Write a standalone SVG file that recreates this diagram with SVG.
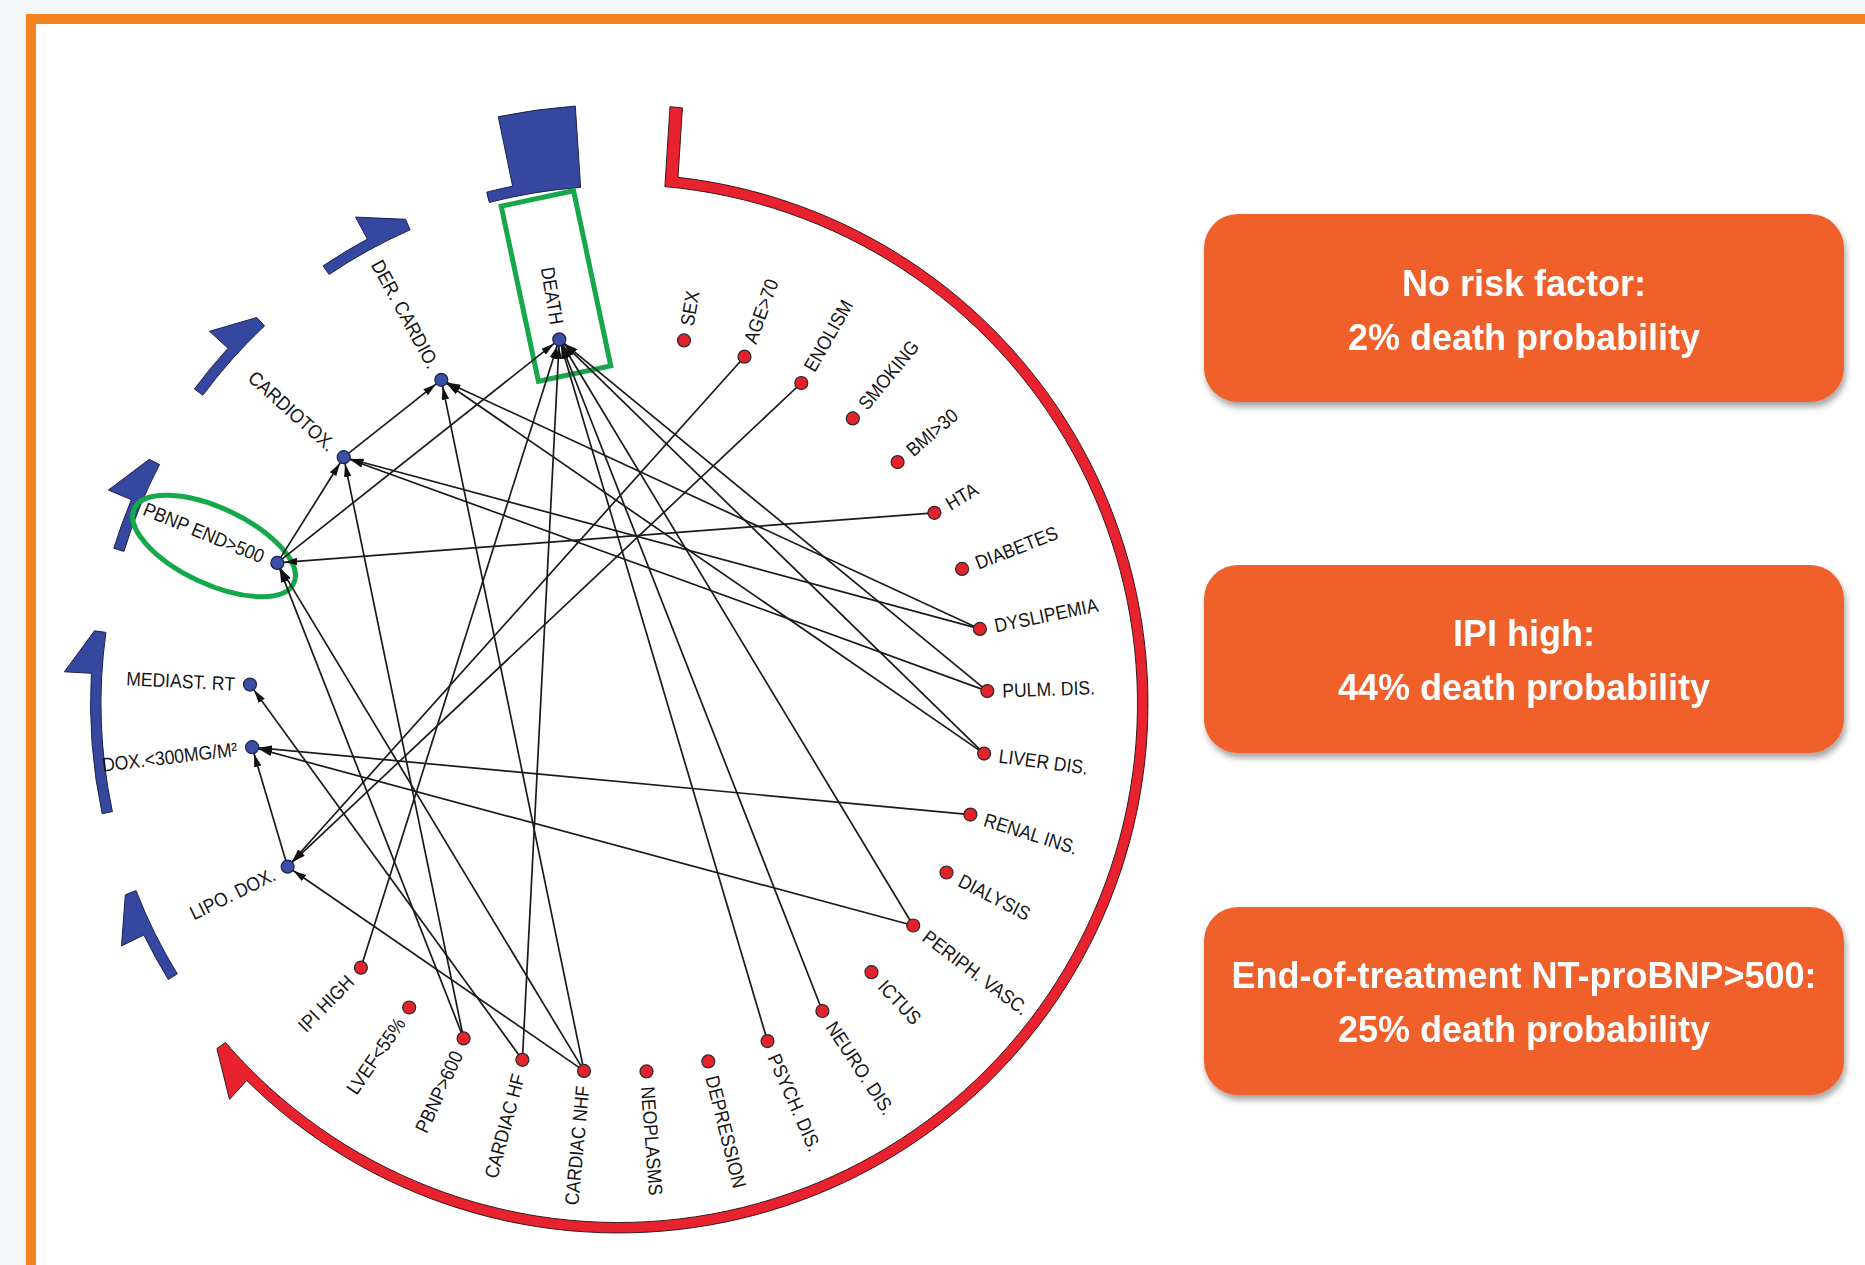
<svg xmlns="http://www.w3.org/2000/svg" width="1865" height="1265" viewBox="0 0 1865 1265">
  <style>
    .lbl { font-family: "Liberation Sans", Arial, sans-serif; font-size: 19.5px; fill: #151515; }
    .lbl-l { text-anchor: end; }
    .risk { fill: #e3222b; stroke: #2a2a2a; stroke-width: 1.2; }
    .mod { fill: #3a4ea4; stroke: #1c2350; stroke-width: 1.2; }
    .band-blue { fill: #35479e; stroke: #1c2350; stroke-width: 1; }
    .band-red { fill: #e8222e; stroke: #3a1a1a; stroke-width: 1; }
    .hl { fill: none; stroke: #14a84a; stroke-width: 5; }
    .card { fill: #f0602a; }
    .card-t { font-family: "Liberation Sans", Arial, sans-serif; font-size: 36px; font-weight: bold; fill: #ffffff; text-anchor: middle; }
  </style>
  <defs>
    <marker id="ah" viewBox="0 0 13 7.5" refX="20" refY="3.75" markerWidth="13" markerHeight="7.5" markerUnits="userSpaceOnUse" orient="auto">
      <path d="M0,0 L13,3.75 L0,7.5 z" fill="#111111"/>
    </marker>
    <filter id="shadow" x="-5%" y="-10%" width="112%" height="130%">
      <feDropShadow dx="2" dy="5" stdDeviation="3" flood-color="#000000" flood-opacity="0.35"/>
    </filter>
  </defs>

  <!-- page and frame -->
  <rect x="0" y="0" width="1865" height="1265" fill="#f5f7fa"/>
  <rect x="31" y="19" width="1900" height="1300" fill="#ffffff" stroke="#f58220" stroke-width="10"/>

  <!-- outer arcs: red risk-factor arc and blue grouping arcs -->
  <g id="arcs">
    <path class="band-red" d="M670.0,106.7 L682.4,107.9 L678.0,177.3 A529.5,529.5 0 1 1 246.7,1080.5 L229.5,1099.4 L216.9,1048.6 L225.4,1042.4 A519,519 0 1 0 664.9,186.6 Z"/>
    <path class="band-blue" d="M489.3,202.4 L486.7,192.2 A528,528 0 0 1 512.6,186.2 L498.3,116.7 A599,599 0 0 1 575.3,106.1 L580.6,187.4 A517.5,517.5 0 0 0 489.3,202.4 Z"/>
    <path class="band-blue" d="M329.1,274.5 L323.2,265.8 A528,528 0 0 1 367.4,239.1 L355.5,217.1 L405.5,219.3 L410.1,229.8 A517.5,517.5 0 0 0 329.1,274.5 Z"/>
    <path class="band-blue" d="M202.8,395.2 L194.4,389.0 A528,528 0 0 1 228.0,348.2 L209.5,331.3 L256.8,317.5 L264.6,325.9 A517.5,517.5 0 0 0 202.8,395.2 Z"/>
    <path class="band-blue" d="M123.9,551.4 L113.8,548.3 A528,528 0 0 1 131.4,499.7 L108.4,490.1 L149.3,459.3 L159.5,464.6 A517.5,517.5 0 0 0 123.9,551.4 Z"/>
    <path class="band-blue" d="M112.4,811.6 L102.2,813.8 A528,528 0 0 1 91.4,673.3 L64.4,671.8 L94.5,630.8 L105.9,632.4 A517.5,517.5 0 0 0 112.4,811.6 Z"/>
    <path class="band-blue" d="M177.3,973.9 L168.3,979.4 A528,528 0 0 1 143.9,935.0 L121.5,945.9 L125.3,894.8 L136.0,890.6 A517.5,517.5 0 0 0 177.3,973.9 Z"/>
  </g>

  <!-- highlight outlines -->
  <g id="highlights">
    <rect class="hl" x="519" y="196.5" width="74" height="179" transform="rotate(-12 556 286)"/>
    <ellipse class="hl" cx="214" cy="546" rx="88" ry="38" transform="rotate(25 214 546)"/>
  </g>

  <!-- directed links -->
  <g id="connectors" fill="none" stroke="#1a1a1a" stroke-width="1.7" marker-end="url(#ah)">
    <line x1="343.7" y1="457.2" x2="441.3" y2="379.8"/>
    <line x1="277.3" y1="562.9" x2="343.7" y2="457.2"/>
    <line x1="277.3" y1="562.9" x2="559.3" y2="339.3"/>
    <line x1="934.4" y1="512.8" x2="277.3" y2="562.9"/>
    <line x1="463.6" y1="1038.4" x2="277.3" y2="562.9"/>
    <line x1="584.0" y1="1070.9" x2="277.3" y2="562.9"/>
    <line x1="463.6" y1="1038.4" x2="343.7" y2="457.2"/>
    <line x1="979.9" y1="628.9" x2="343.7" y2="457.2"/>
    <line x1="987.3" y1="691.1" x2="343.7" y2="457.2"/>
    <line x1="979.9" y1="628.9" x2="441.3" y2="379.8"/>
    <line x1="984.1" y1="753.6" x2="441.3" y2="379.8"/>
    <line x1="584.0" y1="1070.9" x2="441.3" y2="379.8"/>
    <line x1="360.9" y1="967.7" x2="559.3" y2="339.3"/>
    <line x1="522.4" y1="1059.8" x2="559.3" y2="339.3"/>
    <line x1="987.3" y1="691.1" x2="559.3" y2="339.3"/>
    <line x1="984.1" y1="753.6" x2="559.3" y2="339.3"/>
    <line x1="913.2" y1="925.5" x2="559.3" y2="339.3"/>
    <line x1="822.4" y1="1011.0" x2="559.3" y2="339.3"/>
    <line x1="767.5" y1="1041.1" x2="559.3" y2="339.3"/>
    <line x1="522.4" y1="1059.8" x2="250.0" y2="684.6"/>
    <line x1="970.4" y1="814.6" x2="252.1" y2="747.2"/>
    <line x1="913.2" y1="925.5" x2="252.1" y2="747.2"/>
    <line x1="287.6" y1="866.7" x2="252.1" y2="747.2"/>
    <line x1="744.5" y1="356.7" x2="287.6" y2="866.7"/>
    <line x1="801.3" y1="383.0" x2="287.6" y2="866.7"/>
    <line x1="584.0" y1="1070.9" x2="287.6" y2="866.7"/>
  </g>

  <!-- risk factors (red), labels run outward on the right half -->
  <g id="n-sex"><circle class="risk" cx="684.0" cy="340.4" r="6.5"/><text class="lbl" dy="0.35em" transform="rotate(-79.77 618.5 703.5) translate(1002.5 703.5) scale(0.9 1)">SEX</text></g>
  <g id="n-age"><circle class="risk" cx="744.5" cy="356.7" r="6.5"/><text class="lbl" dy="0.35em" transform="rotate(-70.04 618.5 703.5) translate(1002.5 703.5) scale(0.9 1)">AGE&gt;70</text></g>
  <g id="n-enolism"><circle class="risk" cx="801.3" cy="383.0" r="6.5"/><text class="lbl" dy="0.35em" transform="rotate(-60.31 618.5 703.5) translate(1002.5 703.5) scale(0.9 1)">ENOLISM</text></g>
  <g id="n-smoking"><circle class="risk" cx="852.8" cy="418.4" r="6.5"/><text class="lbl" dy="0.35em" transform="rotate(-50.58 618.5 703.5) translate(1002.5 703.5) scale(0.9 1)">SMOKING</text></g>
  <g id="n-bmi"><circle class="risk" cx="897.6" cy="462.1" r="6.5"/><text class="lbl" dy="0.35em" transform="rotate(-40.85 618.5 703.5) translate(1002.5 703.5) scale(0.9 1)">BMI&gt;30</text></g>
  <g id="n-hta"><circle class="risk" cx="934.4" cy="512.8" r="6.5"/><text class="lbl" dy="0.35em" transform="rotate(-31.12 618.5 703.5) translate(1002.5 703.5) scale(0.9 1)">HTA</text></g>
  <g id="n-diabetes"><circle class="risk" cx="962.1" cy="568.9" r="6.5"/><text class="lbl" dy="0.35em" transform="rotate(-21.39 618.5 703.5) translate(1002.5 703.5) scale(0.9 1)">DIABETES</text></g>
  <g id="n-dyslipemia"><circle class="risk" cx="979.9" cy="628.9" r="6.5"/><text class="lbl" dy="0.35em" transform="rotate(-11.66 618.5 703.5) translate(1002.5 703.5) scale(0.9 1)">DYSLIPEMIA</text></g>
  <g id="n-pulm"><circle class="risk" cx="987.3" cy="691.1" r="6.5"/><text class="lbl" dy="0.35em" transform="rotate(-1.93 618.5 703.5) translate(1002.5 703.5) scale(0.9 1)">PULM. DIS.</text></g>
  <g id="n-liver"><circle class="risk" cx="984.1" cy="753.6" r="6.5"/><text class="lbl" dy="0.35em" transform="rotate(7.80 618.5 703.5) translate(1002.5 703.5) scale(0.9 1)">LIVER DIS.</text></g>
  <g id="n-renal"><circle class="risk" cx="970.4" cy="814.6" r="6.5"/><text class="lbl" dy="0.35em" transform="rotate(17.53 618.5 703.5) translate(1002.5 703.5) scale(0.9 1)">RENAL INS.</text></g>
  <g id="n-dialysis"><circle class="risk" cx="946.5" cy="872.5" r="6.5"/><text class="lbl" dy="0.35em" transform="rotate(27.26 618.5 703.5) translate(1002.5 703.5) scale(0.9 1)">DIALYSIS</text></g>
  <g id="n-periph"><circle class="risk" cx="913.2" cy="925.5" r="6.5"/><text class="lbl" dy="0.35em" transform="rotate(36.99 618.5 703.5) translate(1002.5 703.5) scale(0.9 1)">PERIPH. VASC.</text></g>
  <g id="n-ictus"><circle class="risk" cx="871.5" cy="972.2" r="6.5"/><text class="lbl" dy="0.35em" transform="rotate(46.72 618.5 703.5) translate(1002.5 703.5) scale(0.9 1)">ICTUS</text></g>
  <g id="n-neuro"><circle class="risk" cx="822.4" cy="1011.0" r="6.5"/><text class="lbl" dy="0.35em" transform="rotate(56.45 618.5 703.5) translate(1002.5 703.5) scale(0.9 1)">NEURO. DIS.</text></g>
  <g id="n-psych"><circle class="risk" cx="767.5" cy="1041.1" r="6.5"/><text class="lbl" dy="0.35em" transform="rotate(66.18 618.5 703.5) translate(1002.5 703.5) scale(0.9 1)">PSYCH. DIS.</text></g>
  <g id="n-depression"><circle class="risk" cx="708.3" cy="1061.4" r="6.5"/><text class="lbl" dy="0.35em" transform="rotate(75.91 618.5 703.5) translate(1002.5 703.5) scale(0.9 1)">DEPRESSION</text></g>
  <g id="n-neoplasms"><circle class="risk" cx="646.5" cy="1071.4" r="6.5"/><text class="lbl" dy="0.35em" transform="rotate(85.64 618.5 703.5) translate(1002.5 703.5) scale(0.9 1)">NEOPLASMS</text></g>

  <!-- risk factors (red), labels end at the node on the left half -->
  <g id="n-cardiac-nhf"><circle class="risk" cx="584.0" cy="1070.9" r="6.5"/><text class="lbl lbl-l" dy="0.35em" transform="rotate(-84.64 618.5 703.5) translate(234.5 703.5) scale(0.9 1)">CARDIAC NHF</text></g>
  <g id="n-cardiac-hf"><circle class="risk" cx="522.4" cy="1059.8" r="6.5"/><text class="lbl lbl-l" dy="0.35em" transform="rotate(-74.91 618.5 703.5) translate(234.5 703.5) scale(0.9 1)">CARDIAC HF</text></g>
  <g id="n-pbnp600"><circle class="risk" cx="463.6" cy="1038.4" r="6.5"/><text class="lbl lbl-l" dy="0.35em" transform="rotate(-65.18 618.5 703.5) translate(234.5 703.5) scale(0.9 1)">PBNP&gt;600</text></g>
  <g id="n-lvef"><circle class="risk" cx="409.2" cy="1007.5" r="6.5"/><text class="lbl lbl-l" dy="0.35em" transform="rotate(-55.45 618.5 703.5) translate(234.5 703.5) scale(0.9 1)">LVEF&lt;55%</text></g>
  <g id="n-ipi"><circle class="risk" cx="360.9" cy="967.7" r="6.5"/><text class="lbl lbl-l" dy="0.35em" transform="rotate(-45.72 618.5 703.5) translate(234.5 703.5) scale(0.9 1)">IPI HIGH</text></g>

  <!-- treatment and outcome nodes (blue) -->
  <g id="n-lipo"><circle class="mod" cx="287.6" cy="866.7" r="6.5"/><text class="lbl lbl-l" dy="0.35em" transform="rotate(-26.26 618.5 703.5) translate(234.5 703.5) scale(0.9 1)">LIPO. DOX.</text></g>
  <g id="n-dox"><circle class="mod" cx="252.1" cy="747.2" r="6.5"/><text class="lbl lbl-l" dy="0.35em" transform="rotate(-6.80 618.5 703.5) translate(234.5 703.5) scale(0.9 1)">DOX.&lt;300MG/M²</text></g>
  <g id="n-mediast"><circle class="mod" cx="250.0" cy="684.6" r="6.5"/><text class="lbl lbl-l" dy="0.35em" transform="rotate(2.93 618.5 703.5) translate(234.5 703.5) scale(0.9 1)">MEDIAST. RT</text></g>
  <g id="n-pbnp-end"><circle class="mod" cx="277.3" cy="562.9" r="6.5"/><text class="lbl lbl-l" dy="0.35em" transform="rotate(22.39 618.5 703.5) translate(234.5 703.5) scale(0.9 1)">PBNP END&gt;500</text></g>
  <g id="n-cardiotox"><circle class="mod" cx="343.7" cy="457.2" r="6.5"/><text class="lbl lbl-l" dy="0.35em" transform="rotate(41.85 618.5 703.5) translate(234.5 703.5) scale(0.9 1)">CARDIOTOX.</text></g>
  <g id="n-der-cardio"><circle class="mod" cx="441.3" cy="379.8" r="6.5"/><text class="lbl lbl-l" dy="0.35em" transform="rotate(61.31 618.5 703.5) translate(234.5 703.5) scale(0.9 1)">DER. CARDIO.</text></g>
  <g id="n-death"><circle class="mod" cx="559.3" cy="339.3" r="6.5"/><text class="lbl lbl-l" dy="0.35em" transform="rotate(80.77 618.5 703.5) translate(234.5 703.5) scale(0.9 1)">DEATH</text></g>

  <!-- probability cards -->
  <g id="card-none" filter="url(#shadow)">
    <rect class="card" x="1204" y="214" width="640" height="188" rx="34"/>
    <text class="card-t" x="1524" y="296">No risk factor:</text>
    <text class="card-t" x="1524" y="350">2% death probability</text>
  </g>
  <g id="card-ipi" filter="url(#shadow)">
    <rect class="card" x="1204" y="565" width="640" height="188" rx="34"/>
    <text class="card-t" x="1524" y="646">IPI high:</text>
    <text class="card-t" x="1524" y="700">44% death probability</text>
  </g>
  <g id="card-ntprobnp" filter="url(#shadow)">
    <rect class="card" x="1204" y="907" width="640" height="188" rx="34"/>
    <text class="card-t" x="1524" y="988">End-of-treatment NT-proBNP&gt;500:</text>
    <text class="card-t" x="1524" y="1042">25% death probability</text>
  </g>
</svg>
